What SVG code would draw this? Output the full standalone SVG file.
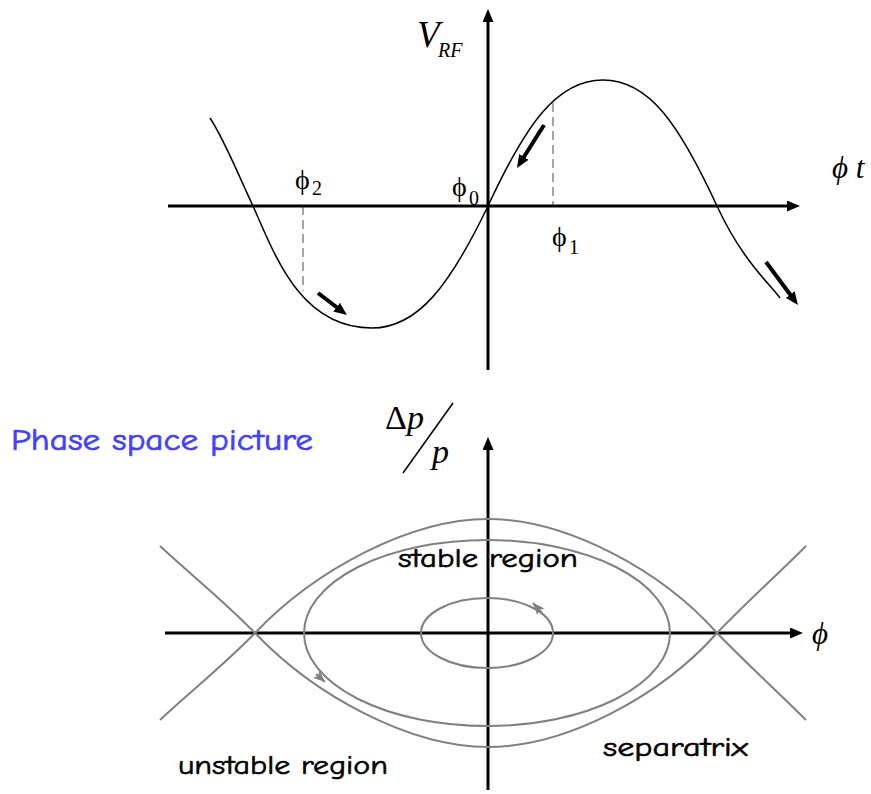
<svg xmlns="http://www.w3.org/2000/svg" width="871" height="794" viewBox="0 0 871 794">
<style>
.axis{stroke:#000;stroke-width:3;fill:none}
.bold{stroke:#000;stroke-width:4;fill:none}
.curve{stroke:#000;stroke-width:1.5;fill:none}
.dash{stroke:#888;stroke-width:1.5;stroke-dasharray:9,5;fill:none}
.orbit{stroke:#808080;stroke-width:2;fill:none}
.serif{font-family:"Liberation Serif","Times New Roman",serif;fill:#000}
.comic{font-family:"Comic Sans MS","Comic Neue","Open Sans",sans-serif;fill:#000;stroke:#000;stroke-width:0.6}
</style>
<defs>
<marker id="blk" markerUnits="userSpaceOnUse" markerWidth="13" markerHeight="11" viewBox="0 0 13 11" refX="3" refY="5.5" orient="auto">
<path d="M0,0 L13,5.5 L0,11 z" fill="#000"/>
</marker>
<marker id="gry" markerUnits="userSpaceOnUse" markerWidth="12" markerHeight="10" viewBox="0 0 12 10" refX="12" refY="5" orient="auto">
<path d="M0,0 L12,5 L0,10 L3,5 z" fill="#808080"/>
</marker>
</defs>

<g id="rf-plot">
<path id="rf-curve" class="curve" d="M210,118 C224,139 238,174 253,206 C275,255 300,328 372,328 C418,328 450,285 488,206 C526,124 557,80 603,80 C649,80 679,124 717,206 C742,260 768,282 780,298"/>
<line class="dash" x1="303" y1="206" x2="303" y2="291"/>
<line class="dash" x1="553" y1="103" x2="553" y2="206"/>
</g>

<g id="connectors">
<line class="axis" x1="488" y1="370" x2="488" y2="19" marker-end="url(#blk)"/>
<line class="axis" x1="168" y1="206" x2="790" y2="206" marker-end="url(#blk)"/>
<line class="bold" x1="544" y1="125" x2="522.3" y2="159.5" marker-end="url(#blk)"/>
<line class="bold" x1="318" y1="293" x2="339" y2="309" marker-end="url(#blk)"/>
<line class="bold" x1="766" y1="262" x2="792" y2="297" marker-end="url(#blk)"/>
<line class="axis" x1="488" y1="790" x2="488" y2="447" marker-end="url(#blk)"/>
<line class="axis" x1="165" y1="633" x2="793" y2="633" marker-end="url(#blk)"/>
</g>

<g id="rf-labels">
<text class="serif" x="417" y="47" font-size="37" font-style="italic">V</text>
<text class="serif" x="438" y="57" font-size="20" font-style="italic">RF</text>
<text class="serif" x="832" y="178" font-size="31" font-style="italic">ϕ t</text>
<text class="serif" x="295" y="189" font-size="28">ϕ</text>
<text class="serif" x="312" y="195" font-size="20">2</text>
<text class="serif" x="452" y="196" font-size="28">ϕ</text>
<text class="serif" x="469" y="205" font-size="20">0</text>
<text class="serif" x="552" y="246" font-size="28">ϕ</text>
<text class="serif" x="569" y="254" font-size="20">1</text>
</g>

<g id="phase-title">
<text x="11" y="450" font-family="'Comic Sans MS','Comic Neue','Open Sans',sans-serif" font-size="31" fill="#4040ff" stroke="#4040ff" stroke-width="0.7" textLength="302" lengthAdjust="spacingAndGlyphs">Phase space picture</text>
</g>

<g id="dp-label">
<text class="serif" x="385" y="429" font-size="34"><tspan>Δ</tspan><tspan font-style="italic">p</tspan></text>
<line x1="403" y1="473" x2="453" y2="403" stroke="#000" stroke-width="1.5"/>
<text class="serif" x="432" y="463" font-size="34" font-style="italic">p</text>
<text class="serif" x="812" y="644" font-size="31" font-style="italic">ϕ</text>
</g>

<g id="separatrix">
<path class="orbit" d="M160,546 C190,574 225,602 255,633 C315,696 410,747 488,747 C566,747 661,696 717,633 C747,602 778,574 806,546"/>
<path class="orbit" d="M160,720 C190,692 225,664 255,633 C315,570 410,519 488,519 C566,519 661,570 717,633 C747,664 778,692 806,720"/>
</g>

<g id="outer-orbit">
<ellipse class="orbit" cx="487" cy="633" rx="183" ry="93"/>
<path class="orbit" d="M316,674 L325,682" marker-end="url(#gry)"/>
</g>

<g id="inner-orbit">
<ellipse class="orbit" cx="487" cy="633" rx="66" ry="35"/>
<path class="orbit" d="M542,613 L533,603" marker-end="url(#gry)"/>
</g>

<g id="region-labels">
<text class="comic" x="398" y="567" font-size="27" textLength="180" lengthAdjust="spacingAndGlyphs">stable region</text>
<text class="comic" x="603" y="756" font-size="27" textLength="145" lengthAdjust="spacingAndGlyphs">separatrix</text>
<text class="comic" x="178" y="774" font-size="27" textLength="210" lengthAdjust="spacingAndGlyphs">unstable region</text>
</g>
</svg>
